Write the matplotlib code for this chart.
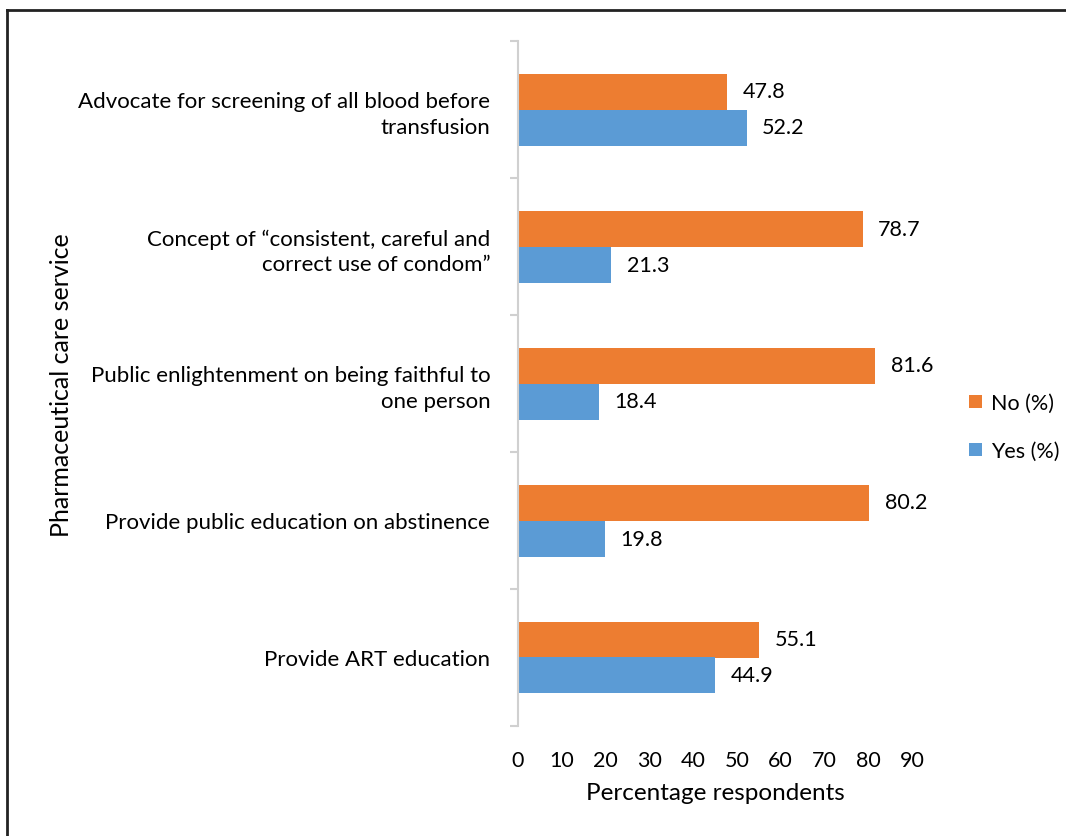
import numpy as np
import matplotlib.pyplot as plt
from matplotlib.lines import Line2D

plt.rcParams['font.family'] = ['Lato', 'DejaVu Sans']

categories = ["Advocate for screening of all blood before\ntransfusion",
              "Concept of \u201cconsistent, careful and\ncorrect use of condom\u201d",
              "Public enlightenment on being faithful to\none person",
              "Provide public education on abstinence",
              "Provide ART education"]
no_pct = [47.8, 78.7, 81.6, 80.2, 55.1]
yes_pct = [52.2, 21.3, 18.4, 19.8, 44.9]
xticks = [0, 10, 20, 30, 40, 50, 60, 70, 80, 90]

c_no = '#ED7D31'
c_yes = '#5B9BD5'

W, H = 1066, 837
fig = plt.figure(figsize=(W/100, H/100), dpi=100)
ax = fig.add_axes([518/W, 1 - 727/H, (912-518)/W, (727-42)/H])

n = len(categories)
y = np.arange(n)
h = 36/137
ax.barh(y - h/2, no_pct, height=h, color=c_no, label='No (%)')
ax.barh(y + h/2, yes_pct, height=h, color=c_yes, label='Yes (%)')

for i in range(n):
    ax.text(no_pct[i] + 3.6, y[i] - h/2, f"{no_pct[i]:.1f}", va='center', ha='left', fontsize=15.5)
    ax.text(yes_pct[i] + 3.6, y[i] + h/2, f"{yes_pct[i]:.1f}", va='center', ha='left', fontsize=15.5)

ax.set_xlim(0, 90)
ax.set_ylim(n - 0.5, -0.5)
ax.set_xticks(xticks)
ax.tick_params(axis='x', length=0, labelsize=15.5, pad=17)
ax.set_yticks(np.arange(n + 1) - 0.5)
ax.set_yticklabels([])
ax.set_yticks(y, minor=True)
ax.set_yticklabels(categories, minor=True, fontsize=16, ha='right', linespacing=1.35)
ax.tick_params(axis='y', which='major', length=6, color='#D0D0D0', width=1.5)
ax.tick_params(axis='y', which='minor', length=0, pad=20)

for s in ['top', 'right', 'bottom']:
    ax.spines[s].set_visible(False)
ax.spines['left'].set_color('#D0D0D0')
ax.spines['left'].set_linewidth(1.5)

ax.set_xlabel("Percentage respondents", fontsize=17.5, labelpad=9)
fig.text(62/W, 1 - 385/H, "Pharmaceutical care service", rotation=90, fontsize=18,
         va='center', ha='center')

handles, labels = ax.get_legend_handles_labels()
fig.legend(handles, labels, loc='center left', bbox_to_anchor=(950/W, 1 - 428/H),
           frameon=False, fontsize=15.5, handlelength=0.6, handleheight=0.6,
           handletextpad=0.4, labelspacing=1.3)

# outer frame
fig.add_artist(Line2D([7/W, 7/W], [0, 1 - 11/H], transform=fig.transFigure, color='#222222', lw=2))
fig.add_artist(Line2D([7/W, 1], [1 - 11/H, 1 - 11/H], transform=fig.transFigure, color='#222222', lw=2))

fig.savefig("out.png", dpi=100)
